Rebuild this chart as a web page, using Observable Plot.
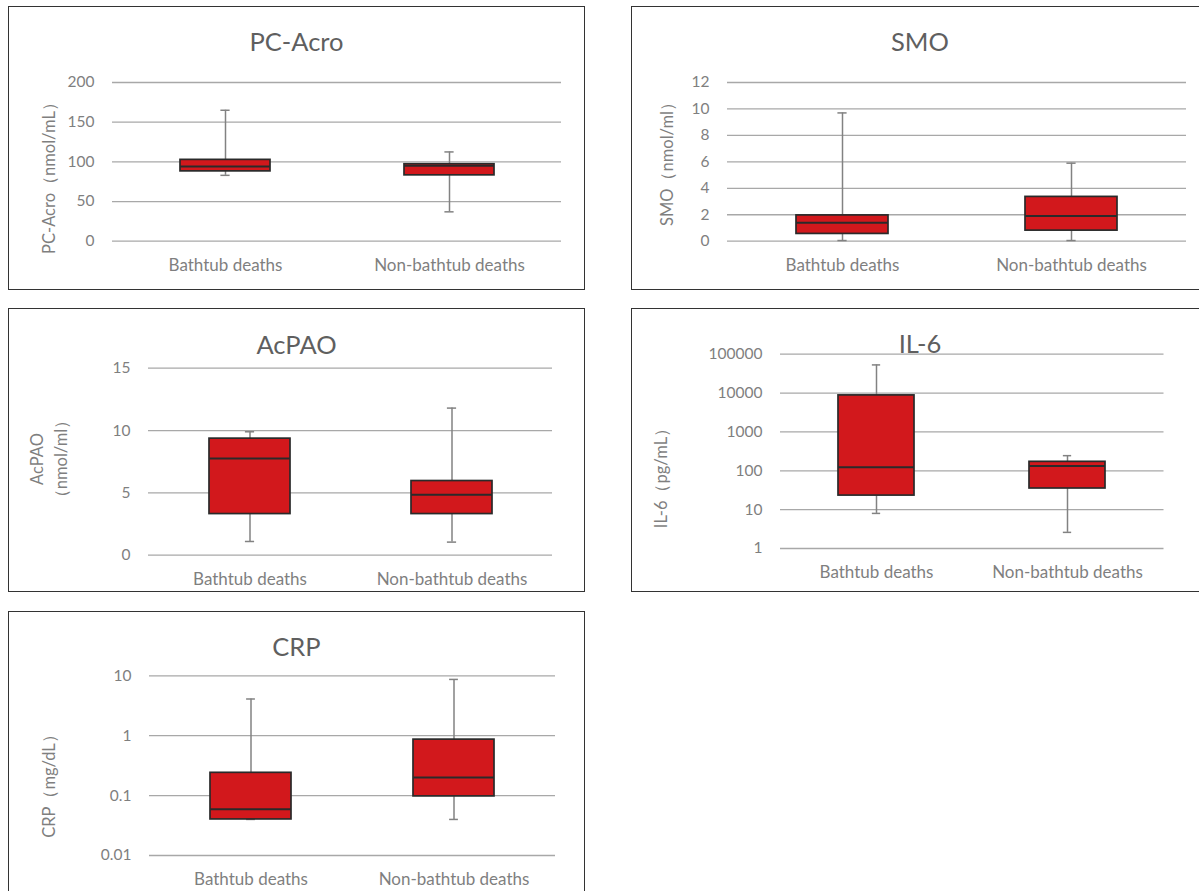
<!DOCTYPE html>
<html><head><meta charset="utf-8">
<script src="https://cdn.jsdelivr.net/npm/d3@7"></script>
<script src="https://cdn.jsdelivr.net/npm/@observablehq/plot@0.6"></script>
<style>
html,body{margin:0;padding:0;background:#fff;overflow:hidden;width:1199px;height:891px;}
#root{position:relative;width:1199px;height:891px;overflow:hidden;font-family:Lato,"Open Sans",sans-serif;}
.panel{position:absolute;width:620px;}
.panel svg{overflow:visible;max-width:none !important;}
.border{position:absolute;box-sizing:border-box;border:1.5px solid #333;pointer-events:none;}
.title{position:absolute;transform:translate(-50%,-50%);font-size:25.5px;color:#5f5f5f;white-space:nowrap;line-height:1.2;}
.ylab{position:absolute;transform:translate(-50%,-50%) rotate(-90deg);font-size:16.5px;color:#7f7f7f;white-space:nowrap;text-align:center;line-height:24px;}
</style></head><body><div id="root"></div>
<script>
// ---- data ----
const groups = ["Bathtub deaths", "Non-bathtub deaths"];

const pcAcroMin = [83, 37];
const pcAcroQ1 = [88, 83];
const pcAcroMedian = [94, 95];
const pcAcroQ3 = [102.5, 97];
const pcAcroMax = [165, 112.5];
const pcAcroTicks = [0, 50, 100, 150, 200];

const smoMin = [0.05, 0.05];
const smoQ1 = [0.55, 0.8];
const smoMedian = [1.4, 1.9];
const smoQ3 = [1.95, 3.35];
const smoMax = [9.7, 5.9];
const smoTicks = [0, 2, 4, 6, 8, 10, 12];

const acpaoMin = [1.1, 1.05];
const acpaoQ1 = [3.3, 3.3];
const acpaoMedian = [7.75, 4.85];
const acpaoQ3 = [9.35, 5.95];
const acpaoMax = [9.9, 11.8];
const acpaoTicks = [0, 5, 10, 15];

const il6Min = [8, 2.6];
const il6Q1 = [23, 35];
const il6Median = [124, 132];
const il6Q3 = [8700, 170];
const il6Max = [53000, 245];
const il6Ticks = [1, 10, 100, 1000, 10000, 100000];

const crpMin = [0.04, 0.04];
const crpQ1 = [0.04, 0.097];
const crpMedian = [0.059, 0.2];
const crpQ3 = [0.24, 0.86];
const crpMax = [4.1, 8.7];
const crpTicks = [0.01, 0.1, 1, 10];

// ---- layout ----
const panels = [
  {title: "PC-Acro", ylabel: "PC-Acro（nmol/mL）", type: "linear", ticks: pcAcroTicks,
   min: pcAcroMin, q1: pcAcroQ1, median: pcAcroMedian, q3: pcAcroQ3, max: pcAcroMax,
   left: 9, top: 7, w: 575, h: 282, mL: 103, mR: 23, mT: 75, mB: 48.3,
   tx: 296.5, ty: 41, lx: 49, ly: 174},
  {title: "SMO", ylabel: "SMO（nmol/ml）", type: "linear", ticks: smoTicks,
   min: smoMin, q1: smoQ1, median: smoMedian, q3: smoQ3, max: smoMax,
   left: 632, top: 7, w: 576, h: 282, mL: 95, mR: 22, mT: 75, mB: 48.3,
   tx: 920, ty: 41, lx: 667, ly: 159.5},
  {title: "AcPAO", ylabel: "AcPAO<br>（nmol/ml）", type: "linear", ticks: acpaoTicks,
   min: acpaoMin, q1: acpaoQ1, median: acpaoMedian, q3: acpaoQ3, max: acpaoMax,
   left: 9, top: 309, w: 575, h: 282, mL: 139, mR: 32, mT: 58.7, mB: 36.3,
   tx: 296.5, ty: 343.5, lx: 49, ly: 459},
  {title: "IL-6", ylabel: "IL-6（pg/mL）", type: "log", ticks: il6Ticks,
   min: il6Min, q1: il6Q1, median: il6Median, q3: il6Q3, max: il6Max,
   left: 632, top: 309, w: 576, h: 282, mL: 148, mR: 44.5, mT: 44.7, mB: 43,
   tx: 920, ty: 343.3, lx: 661, ly: 474},
  {title: "CRP", ylabel: "CRP（mg/dL）", type: "log", ticks: crpTicks,
   min: crpMin, q1: crpQ1, median: crpMedian, q3: crpQ3, max: crpMax,
   left: 9, top: 612, w: 575, h: 290, mL: 140, mR: 29, mT: 63.3, mB: 47,
   tx: 296.5, ty: 646.3, lx: 49, ly: 782}
];

const root = document.getElementById("root");
const RED = "#d2181c", DARK = "#2a2a2a", WHISK = "#828282", GRID = "#a8a8a8", TXT = "#7f7f7f";

for (const p of panels) {
  const rows = groups.map((g, i) => ({group: g, min: p.min[i], q1: p.q1[i], median: p.median[i], q3: p.q3[i], max: p.max[i]}));
  const step = (p.w - p.mL - p.mR) / 2;
  const bw = step * 0.4;
  const capInset = (bw - 9) / 2;
  const ydomain = [p.ticks[0], p.ticks[p.ticks.length - 1]];
  const chart = Plot.plot({
    width: p.w, height: p.h,
    marginLeft: p.mL, marginRight: p.mR, marginTop: p.mT, marginBottom: p.mB,
    style: {fontFamily: "Lato, 'Open Sans', sans-serif", color: TXT, background: "transparent", maxWidth: "none"},
    x: {domain: groups, paddingInner: 0.6, paddingOuter: 0.3, label: null},
    y: {type: p.type, domain: ydomain, label: null},
    marks: [
      Plot.gridY(p.ticks, {stroke: GRID, strokeOpacity: 1, strokeWidth: 1.3}),
      Plot.axisY(p.ticks, {tickSize: 0, tickPadding: 18, tickFormat: d => String(d), fontSize: 15.5, fill: TXT, label: null}),
      Plot.axisX({tickSize: 0, tickPadding: 17.5, fontSize: 17, fill: TXT, label: null}),
      Plot.ruleX(rows, {x: "group", y1: "min", y2: "max", stroke: WHISK, strokeWidth: 1.5}),
      Plot.tickY(rows, {x: "group", y: "min", stroke: WHISK, strokeWidth: 1.5, insetLeft: capInset, insetRight: capInset}),
      Plot.tickY(rows, {x: "group", y: "max", stroke: WHISK, strokeWidth: 1.5, insetLeft: capInset, insetRight: capInset}),
      Plot.barY(rows, {x: "group", y1: "q1", y2: "q3", fill: RED, stroke: DARK, strokeWidth: 1.7}),
      Plot.tickY(rows, {x: "group", y: "median", stroke: DARK, strokeWidth: 2})
    ]
  });
  const wrap = document.createElement("div");
  wrap.className = "panel";
  wrap.style.left = p.left + "px";
  wrap.style.top = p.top + "px";
  wrap.appendChild(chart);
  root.appendChild(wrap);

  const border = document.createElement("div");
  border.className = "border";
  border.style.left = (p.left - 1) + "px";
  border.style.top = (p.top - 1) + "px";
  border.style.width = (p.w + 2) + "px";
  border.style.height = (p.h + 2) + "px";
  root.appendChild(border);

  const t = document.createElement("div");
  t.className = "title";
  t.textContent = p.title;
  t.style.left = p.tx + "px";
  t.style.top = p.ty + "px";
  root.appendChild(t);

  const yl = document.createElement("div");
  yl.className = "ylab";
  yl.innerHTML = p.ylabel;
  yl.style.left = p.lx + "px";
  yl.style.top = p.ly + "px";
  root.appendChild(yl);
}
</script></body></html>
